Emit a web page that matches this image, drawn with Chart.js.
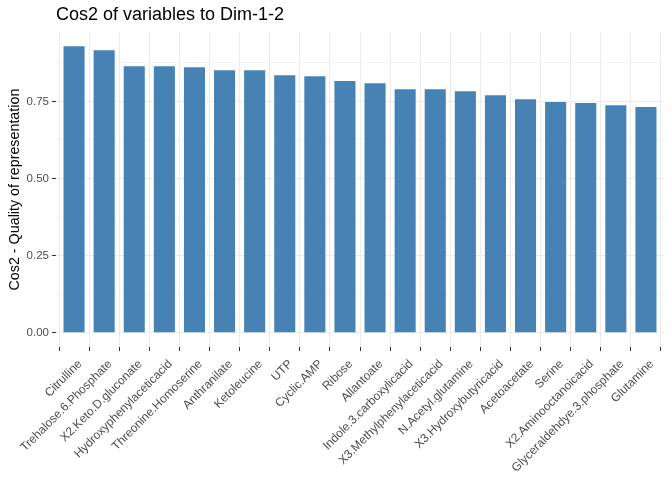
<!DOCTYPE html>
<html>
<head>
<meta charset="utf-8">
<script src="https://cdn.jsdelivr.net/npm/chart.js@4"></script>
<style>
html,body{margin:0;padding:0;background:#fff;}
#wrap{width:672px;height:480px;}
</style>
</head>
<body>
<div id="wrap"><canvas id="c" width="672" height="480"></canvas></div>
<script>
const categories = ["Citrulline","Trehalose.6.Phosphate","X2.Keto.D.gluconate","Hydroxyphenylaceticacid","Threonine.Homoserine","Anthranilate","Ketoleucine","UTP","Cyclic.AMP","Ribose","Allantoate","Indole.3.carboxylicacid","X3.Methylphenylaceticacid","N.Acetyl.glutamine","X3.Hydroxybutyricacid","Acetoacetate","Serine","X2.Aminooctanoicacid","Glyceraldehdye.3.phosphate","Glutamine"];
const cos2Values = [0.929,0.916,0.864,0.864,0.861,0.851,0.851,0.835,0.832,0.816,0.809,0.790,0.790,0.783,0.770,0.757,0.748,0.745,0.738,0.732];
const yTickValues = [0,0.25,0.5,0.75];
const yMinorValues = [0.125,0.375,0.625,0.875];

const points = categories.map((c,i)=>({x:i,y:cos2Values[i]}));
const allY = yTickValues.concat(yMinorValues).sort((a,b)=>a-b);
const isMajor = v => yTickValues.some(t=>Math.abs(t-v)<1e-9);
const FONT = '"Liberation Sans", Arial, sans-serif';

new Chart(document.getElementById('c'), {
  type:'bar',
  data:{datasets:[{data:points,backgroundColor:'#4682B4',borderWidth:0,inflateAmount:0,barPercentage:0.7,categoryPercentage:1}]},
  options:{
    responsive:false,animation:false,
    layout:{padding:{left:0,right:8,top:0,bottom:0}},
    plugins:{
      legend:{display:false},tooltip:{enabled:false},
      title:{display:true,text:'Cos2 of variables to Dim-1-2',align:'start',fullSize:false,color:'#000',
        font:{family:FONT,size:18,weight:'normal'},padding:{top:4.5,bottom:6}}
    },
    scales:{
      x:{type:'linear',min:-0.6,max:categories.length-1+0.6,offset:false,
        afterBuildTicks:s=>{s.ticks=categories.map((c,i)=>({value:i}));},
        afterFit:s=>{s.height=133;},
        border:{display:false},
        grid:{color:'#EBEBEB',lineWidth:1,tickColor:'#333',tickLength:4,drawTicks:true},
        ticks:{autoSkip:false,maxRotation:45,minRotation:45,padding:6,labelOffset:6,color:'#4D4D4D',
          font:{family:FONT,size:12},
          callback:(v)=>categories[v]}
      },
      y:{min:-0.0465,max:0.975,
        afterBuildTicks:s=>{s.ticks=allY.map(v=>({value:v}));},
        afterFit:s=>{s.width=56;},
        border:{display:false},
        grid:{color:'#EBEBEB',lineWidth:c=>isMajor(c.tick.value)?1:0.6,
          tickColor:c=>isMajor(c.tick.value)?'#333':'rgba(0,0,0,0)',tickLength:4},
        ticks:{padding:3,color:'#4D4D4D',font:{family:FONT,size:11.5},
          callback:v=>isMajor(v)?v.toFixed(2):''},
        title:{display:true,text:'Cos2 - Quality of representation',color:'#000',
          font:{family:FONT,size:14.3},padding:{top:6,bottom:0}}
      }
    }
  }
});
</script>
</body>
</html>
